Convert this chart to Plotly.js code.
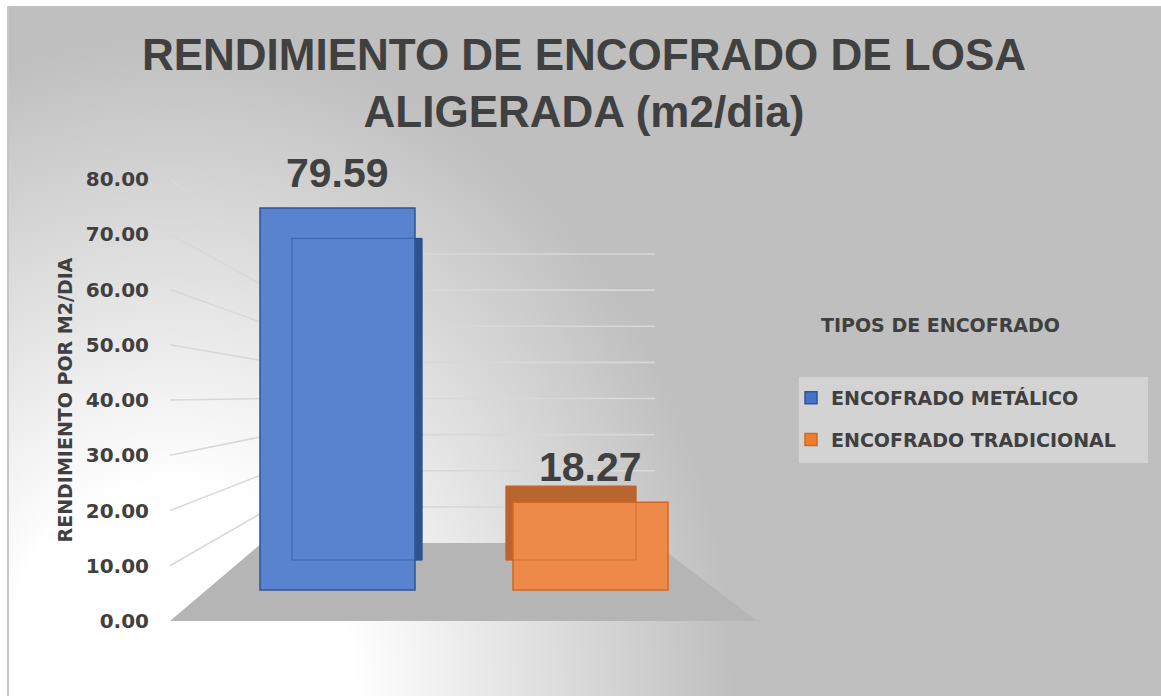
<!DOCTYPE html>
<html>
<head>
<meta charset="utf-8">
<script src="https://cdn.plot.ly/plotly-3.0.1.min.js"></script>
<style>
  html, body { margin: 0; padding: 0; background: #ffffff; }
  #wrap { position: relative; width: 1161px; height: 696px; overflow: hidden; }
  #bg {
    position: absolute; left: 7px; top: 6px; width: 1154px; height: 690px;
    border-left: 2px solid #c6c6c6;
    background: radial-gradient(ellipse 560px 660px at 165px 690px, #ffffff 0%, #ffffff 32%, #bfbfbf 100%);
  }
  #chart { position: absolute; left: 0; top: 0; width: 1161px; height: 696px; }
</style>
</head>
<body>
<div id="wrap"><div id="bg"></div><div id="chart"></div></div>
<script>
// ---- data ----
const categories = ['ENCOFRADO METÁLICO', 'ENCOFRADO TRADICIONAL'];
const values = [79.59, 18.27];
const tickValues = [0, 10, 20, 30, 40, 50, 60, 70, 80];
const tickLabels = ['0.00', '10.00', '20.00', '30.00', '40.00', '50.00', '60.00', '70.00', '80.00'];
const chartTitle = 'RENDIMIENTO DE ENCOFRADO DE LOSA<br>ALIGERADA (m2/dia)';
const yTitle = 'RENDIMIENTO POR M2/DIA';
const legendTitle = 'TIPOS DE ENCOFRADO';

// ---- styling / geometry ----
const frontColors = ['#5a83cf', '#ed8a4a'];
const frontLines = ['#2f5597', '#d4671f'];
const backColors = ['#2f5190', '#b8652f'];
const edgeColors = ['rgba(45,80,150,0.55)', 'rgba(205,95,25,0.55)'];
const legendColors = ['#4472c4', '#ed7d31'];

const L = 170, R = 760, T = 179, B = 621;
const fx = px => (px - L) / (R - L);
const fy = py => (B - py) / (B - T);
// vertical mappings (pixel of zero, pixels per unit)
const labelMap = {zero: 621, k: 5.525};
const frontMap = {zero: 590, k: 4.8};
const backMap  = {zero: 560, k: 4.04};
const wallMap  = {zero: 543, k: 3.6125};
const yRange = m => [(m.zero - B) / m.k, (m.zero - T) / m.k];
const toLabel = py => (labelMap.zero - py) / labelMap.k;
// horizontal mappings (pixel of first category, pixels per category)
const frontX = {c0: 337.5, s: 253};
const backX  = {c0: 357, s: 214};
const xRange = m => [(L - m.c0) / m.s, (R - m.c0) / m.s];

const fontFam = 'DejaVu Sans, Verdana, sans-serif';
const textCol = '#404040';

// ---- traces ----
const traces = [];
// perspective gridlines of the side wall and back wall, one per tick value
const gx = [], gy = [];
const cornerX = fx(272), wallRight = fx(655);
tickValues.forEach(v => {
  if (v === 0) return;
  const yb = toLabel(wallMap.zero - wallMap.k * v);
  gx.push(0, cornerX, wallRight, null);
  gy.push(v, yb, yb, null);
});
traces.push({
  type: 'scatter', mode: 'lines', x: gx, y: gy, xaxis: 'x', yaxis: 'y',
  line: {color: '#d8d8d8', width: 1.6}, showlegend: false, hoverinfo: 'skip', connectgaps: false
});
// back faces (give the 3-D depth: side / top faces)
categories.forEach((c, i) => {
  traces.push({
    type: 'bar', x: [c], y: [values[i]], xaxis: 'x2', yaxis: 'y2',
    width: 130 / backX.s, marker: {color: backColors[i], line: {color: backColors[i], width: 1}},
    showlegend: false, hoverinfo: 'skip'
  });
});
// front faces
categories.forEach((c, i) => {
  traces.push({
    type: 'bar', x: [c], y: [values[i]], xaxis: 'x3', yaxis: 'y3', name: c,
    legendgroup: 'g' + i,
    width: 155 / frontX.s,
    marker: {color: frontColors[i], line: {color: frontLines[i], width: 1.5}},
    hovertemplate: '%{x}: %{y:.2f}<extra></extra>'
  });
});
// back-face edges seen through the translucent front face
categories.forEach((c, i) => {
  traces.push({
    type: 'bar', x: [c], y: [values[i]], xaxis: 'x4', yaxis: 'y4',
    width: 130 / backX.s, marker: {color: 'rgba(0,0,0,0)', line: {color: edgeColors[i], width: 1.2}},
    showlegend: false, hoverinfo: 'skip'
  });
});

// ---- decorative floor and legend box ----
const shapes = [];
shapes.push({
  type: 'path', xref: 'paper', yref: 'paper', layer: 'below',
  path: `M${fx(170)},${fy(621)} L${fx(757)},${fy(621)} L${fx(655)},${fy(543)} L${fx(262)},${fy(543)} Z`,
  fillcolor: '#b5b5b5', line: {width: 0}
});
shapes.push({type: 'rect', xref: 'paper', yref: 'paper', layer: 'below',
  x0: fx(799), x1: fx(1148), y0: fy(377), y1: fy(463), fillcolor: '#d3d3d3', line: {width: 0}});

// ---- annotations ----
const annotations = categories.map((c, i) => ({
  xref: 'x3', yref: 'y3', x: c, y: values[i], text: values[i].toFixed(2),
  showarrow: false, yanchor: 'bottom', yshift: 10,
  font: {family: 'Liberation Sans, Arial, sans-serif', size: 41, weight: 'bold', color: textCol}
}));
annotations.push({
  xref: 'paper', yref: 'paper', x: fx(940), y: fy(325), text: legendTitle, showarrow: false,
  xanchor: 'center', yanchor: 'middle',
  font: {family: fontFam, size: 19, weight: 'bold', color: textCol}
});

const catAxis = (m, over) => ({type: 'category', categoryarray: categories, categoryorder: 'array',
  range: xRange(m), overlaying: over, visible: false, fixedrange: true});

const layout = {
  width: 1161, height: 696,
  margin: {l: L, r: 1161 - R, t: T, b: 696 - B, pad: 0},
  paper_bgcolor: 'rgba(0,0,0,0)', plot_bgcolor: 'rgba(0,0,0,0)',
  barmode: 'overlay',
  title: {
    text: chartTitle, x: 0.503, xanchor: 'center', xref: 'container',
    y: 0.899, yanchor: 'top', yref: 'container',
    font: {family: 'Liberation Sans, Arial, sans-serif', size: 44, weight: 'bold', color: textCol}
  },
  xaxis: {range: [0, 1], visible: false, fixedrange: true},
  xaxis2: catAxis(backX, 'x'),
  xaxis3: catAxis(frontX, 'x'),
  xaxis4: catAxis(backX, 'x'),
  yaxis: {range: yRange(labelMap), tickvals: tickValues, ticktext: tickLabels,
    showgrid: false, zeroline: false, showline: false, ticks: '', ticklabelstandoff: 20,
    tickfont: {family: fontFam, size: 20, weight: 'bold', color: textCol},
    title: {text: yTitle, standoff: 8, font: {family: fontFam, size: 19, weight: 'bold', color: textCol}},
    fixedrange: true},
  yaxis2: {range: yRange(backMap), overlaying: 'y', visible: false, fixedrange: true},
  yaxis3: {range: yRange(frontMap), overlaying: 'y', visible: false, fixedrange: true},
  yaxis4: {range: yRange(backMap), overlaying: 'y', visible: false, fixedrange: true},
  showlegend: true,
  legend: {x: fx(791), xanchor: 'left', y: fy(379), yanchor: 'top',
    bgcolor: 'rgba(0,0,0,0)', tracegroupgap: 14, traceorder: 'grouped',
    font: {family: fontFam, size: 19, weight: 'bold', color: textCol}},
  shapes: shapes,
  annotations: annotations
};

Plotly.newPlot('chart', traces, layout, {displayModeBar: false, responsive: false}).then(() => {
  // legend swatches in the standard series colours
  document.querySelectorAll('#chart .legend .traces').forEach((g, i) => {
    const p = g.querySelector('.legendpoints path');
    if (p && legendColors[i]) { p.style.fill = legendColors[i]; }
  });
});
</script>
</body>
</html>
